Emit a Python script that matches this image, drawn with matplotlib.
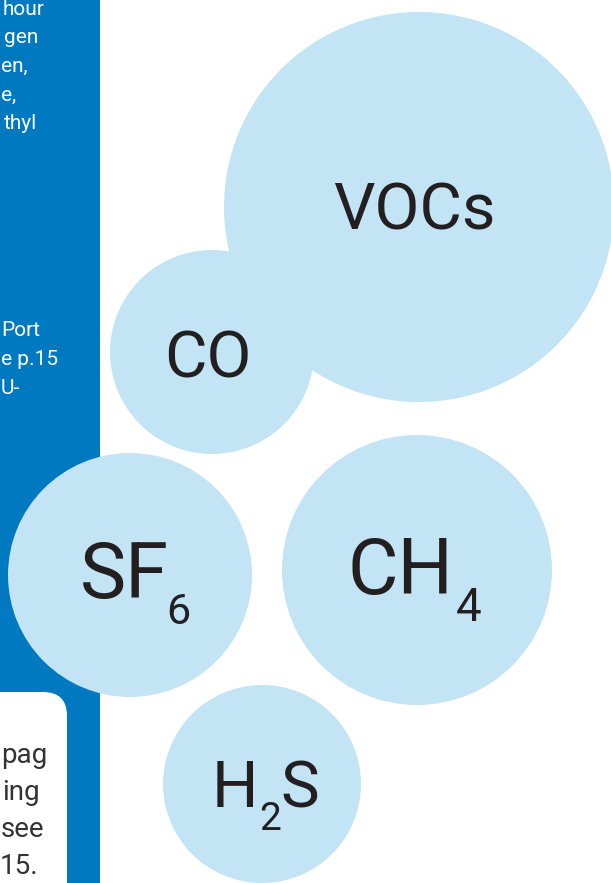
import matplotlib.pyplot as plt
from matplotlib.patches import Circle, Rectangle, FancyBboxPatch

plt.rcParams['font.family'] = ['Roboto', 'DejaVu Sans']

# Bubbles: gas, centre and radius (pixels of the page)
gases = ['VOCs', 'CO', 'CH4', 'SF6', 'H2S']
bubble_x = [419, 212, 417, 130, 262]
bubble_y = [207, 352, 570, 575, 784]
bubble_r = [195, 102, 135, 122, 99]

# Cut-off text of the neighbouring panels
blue_lines_top = ['hour', 'gen', 'en,', 'e,', 'thyl']
blue_lines_mid = ['Port', 'e p.15', 'U-']
box_lines = ['pag', 'ing', 'see', '15.']

BLUE = '#0079c1'
LIGHT = '#c2e4f4'
INK = '#231f20'

W, H = 611, 883
fig = plt.figure(figsize=(W / 100, H / 100), dpi=100)
ax = fig.add_axes([0, 0, 1, 1])
ax.set_xlim(0, W)
ax.set_ylim(H, 0)
ax.axis('off')

# blue side panel and white note box
ax.add_patch(Rectangle((0, 0), 99.5, H, color=BLUE, lw=0, zorder=1))
ax.add_patch(FancyBboxPatch((-60, 692), 127, 300, boxstyle='round,pad=0,rounding_size=24',
                            fc='white', ec='none', zorder=2))

for x, y, r in zip(bubble_x, bubble_y, bubble_r):
    ax.add_patch(Circle((x, y), r, color=LIGHT, lw=0, zorder=3))

# white text on the blue panel (left part of the page is cropped away)
side = dict(color='white', fontsize=15, va='baseline', zorder=2)
ax.text(44, 15, blue_lines_top[0], ha='right', **side)
ax.text(38, 43, blue_lines_top[1], ha='right', **side)
ax.text(1, 72, blue_lines_top[2], ha='left', **side)
ax.text(1, 101, blue_lines_top[3], ha='left', **side)
ax.text(37, 129, blue_lines_top[4], ha='right', **side)
for s, yb in zip(blue_lines_mid, [336, 365, 394]):
    ax.text(1, yb, s, ha='left', **side)

# dark text in the white note box
note = dict(color='#333333', fontsize=20, va='baseline', zorder=2)
ax.text(1, 763, box_lines[0], ha='left', **note)
ax.text(40, 800, box_lines[1], ha='right', **note)
ax.text(1, 837, box_lines[2], ha='left', **note)
ax.text(38, 874, box_lines[3], ha='right', **note)

# gas labels, subscripts placed by hand
lab = dict(color=INK, ha='center', va='baseline', zorder=4)
ax.text(414, 229, 'VOCs', fontsize=47, **lab)
ax.text(208, 377, 'CO', fontsize=47, **lab)
ax.text(401, 594, 'CH', fontsize=56, **lab)
ax.text(469, 621, '4', fontsize=33, **lab)
ax.text(124, 598, 'SF', fontsize=56, **lab)
ax.text(178, 624, '6', fontsize=31, **lab)
ax.text(235, 807, 'H', fontsize=47, **lab)
ax.text(270, 830, '2', fontsize=28, **lab)
ax.text(300, 807, 'S', fontsize=47, **lab)

fig.savefig('out.png', dpi=100)
